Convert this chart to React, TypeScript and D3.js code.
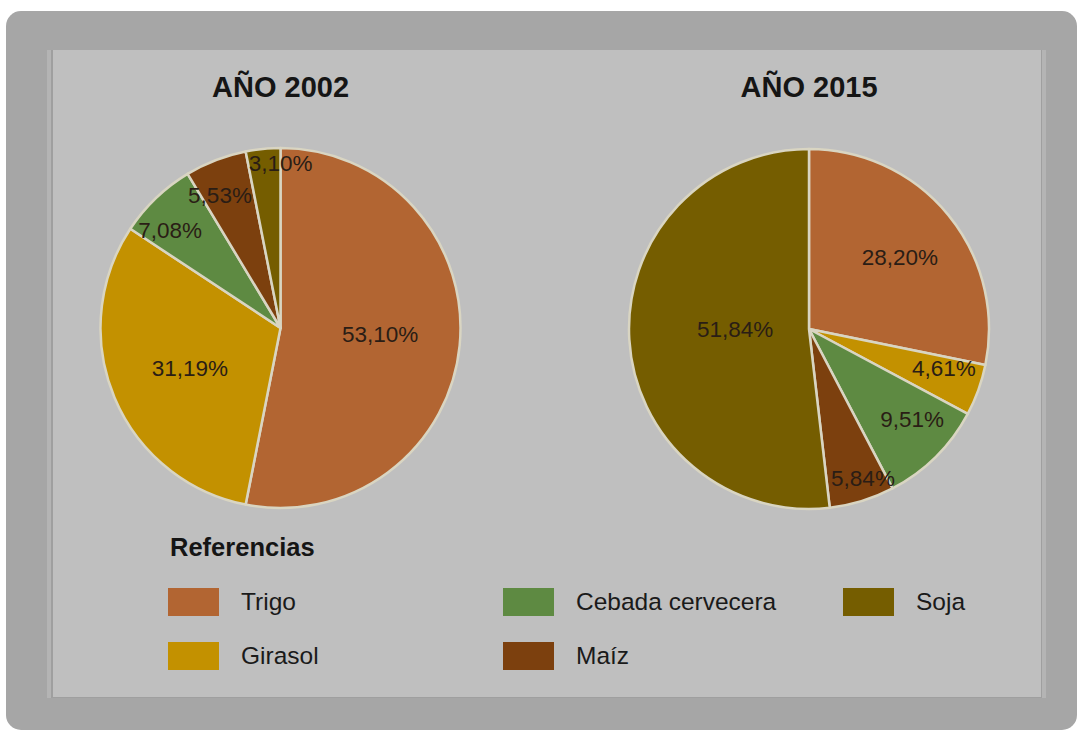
import { pie as d3_pie, arc as d3_arc, format } from "d3";

const crops = ["Trigo", "Girasol", "Cebada cervecera", "Maíz", "Soja"];
const colors = ["#b26532", "#c39100", "#5e8a42", "#7c400e", "#755d00"];
const years = ["AÑO 2002", "AÑO 2015"];
const share2002 = [53.1, 31.19, 7.08, 5.53, 3.1];
const share2015 = [28.2, 4.61, 9.51, 5.84, 51.84];

// where each slice label sits: fraction of radius, angle nudge in degrees
const labelK = [
  [0.555, 0.55, 0.82, 0.81, 0.92],
  [0.645, 0.78, 0.76, 0.88, 0.41],
];
const labelNudge = [
  [-2, -1, -4.6, -3.4, 5.6],
  [0.8, -3.8, -4.1, -2.8, 3.3],
];

const W = 1077;
const H = 731;
const R = 180;
const centers = [
  [280.5, 328],
  [809, 329],
];
const font = "'Liberation Sans', Arial, sans-serif";
const pct = (v: number) => format(".2f")(v).replace(".", ",") + "%";

function Pie({ values, idx }: { values: number[]; idx: number }) {
  const [cx, cy] = centers[idx];
  const slices = d3_pie<number>().sort(null).value((d) => d)(values);
  const arc = d3_arc<any>().innerRadius(0).outerRadius(R);
  return (
    <g transform={`translate(${cx},${cy})`}>
      {slices.map((s, i) => (
        <path
          key={i}
          d={arc(s) ?? ""}
          fill={colors[i]}
          stroke="#d9d5c2"
          strokeWidth={2.5}
          strokeLinejoin="round"
        />
      ))}
      {slices.map((s, i) => {
        const a = (s.startAngle + s.endAngle) / 2 + (labelNudge[idx][i] * Math.PI) / 180;
        const r = R * labelK[idx][i];
        return (
          <text
            key={"t" + i}
            x={r * Math.sin(a)}
            y={-r * Math.cos(a)}
            dy="0.36em"
            textAnchor="middle"
            fontFamily={font}
            fontSize={22.5}
            fill="#2a1d15"
          >
            {pct(s.data)}
          </text>
        );
      })}
      <text
        x={0}
        y={97 - cy}
        textAnchor="middle"
        fontFamily={font}
        fontWeight="bold"
        fontSize={29}
        fill="#151515"
      >
        {years[idx]}
      </text>
    </g>
  );
}

export default function App() {
  // legend: column-major, 2 rows
  const legendCols = [168, 503, 843];
  const legendRows = [588, 642];
  return (
    <svg
      width={W}
      height={H}
      style={{ position: "absolute", left: 0, top: 0, background: "#fff" }}
    >
      {/* frame */}
      <rect x={6} y={11} width={1071} height={719} rx={15} fill="#a6a6a6" />
      <rect x={47} y={50} width={999} height={648} fill="#b4b4b4" />
      <rect x={51} y={50} width={991} height={648} fill="#9f9f9f" />
      <rect x={53} y={50} width={988} height={647} fill="#bfbfbf" />

      <Pie values={share2002} idx={0} />
      <Pie values={share2015} idx={1} />

      {/* legend */}
      <text
        x={170}
        y={556}
        fontFamily={font}
        fontWeight="bold"
        fontSize={25.5}
        fill="#151515"
      >
        Referencias
      </text>
      {crops.map((c, i) => {
        const x = legendCols[Math.floor(i / 2)];
        const y = legendRows[i % 2];
        return (
          <g key={c}>
            <rect x={x} y={y} width={51} height={28} fill={colors[i]} />
            <text
              x={x + 73}
              y={y + 21.5}
              fontFamily={font}
              fontSize={24.5}
              fill="#1a1a1a"
            >
              {c}
            </text>
          </g>
        );
      })}
    </svg>
  );
}
